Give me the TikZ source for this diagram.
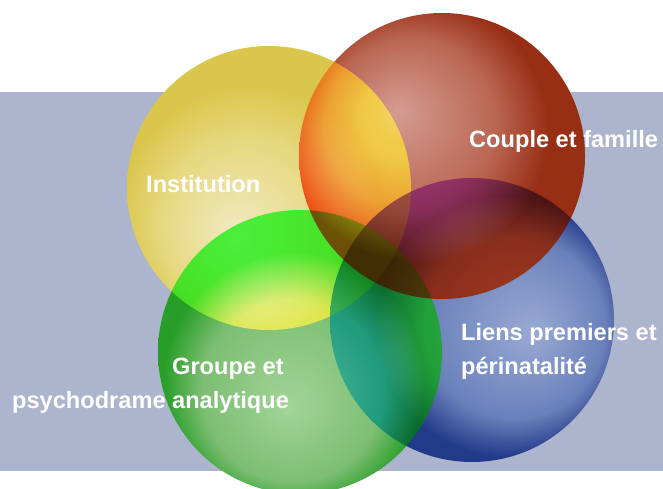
\documentclass[tikz,border=0pt]{standalone}
\usepackage{fontspec}
\setmainfont{Liberation Sans}
\usepackage{xcolor}

\definecolor{backblue}{RGB}{173,181,206}
\definecolor{yellowin}{RGB}{242,234,196}
\definecolor{yellowmid}{RGB}{230,216,126}
\definecolor{yellowout}{RGB}{218,198,76}
\definecolor{redin}{RGB}{212,156,146}
\definecolor{redmid}{RGB}{186,102,82}
\definecolor{redout}{RGB}{152,46,20}
\definecolor{greenin}{RGB}{162,212,152}
\definecolor{greenmid}{RGB}{124,190,114}
\definecolor{greenout}{RGB}{40,158,40}
\definecolor{bluein}{RGB}{152,170,212}
\definecolor{bluemid}{RGB}{106,128,186}
\definecolor{blueout}{RGB}{34,58,138}

%glassy balls, light spot a little off the centre
\pgfdeclareradialshading{yellowball}{\pgfpoint{-6bp}{-9bp}}{color(0bp)=(yellowin); color(15bp)=(yellowmid); color(23bp)=(yellowout); color(50bp)=(yellowout)}
\pgfdeclareradialshading{redball}{\pgfpoint{-8bp}{8bp}}{color(0bp)=(redin); color(15bp)=(redmid); color(23bp)=(redout); color(50bp)=(redout)}
\pgfdeclareradialshading{greenball}{\pgfpoint{-2bp}{-10bp}}{color(0bp)=(greenin); color(16bp)=(greenmid); color(23bp)=(greenout); color(50bp)=(greenout)}
\pgfdeclareradialshading{blueball}{\pgfpoint{11bp}{-2bp}}{color(0bp)=(bluein); color(16bp)=(bluemid); color(23bp)=(blueout); color(50bp)=(blueout)}

\begin{document}
\begin{tikzpicture}[x=1pt,y=-1pt]
\tikzstyle{label} = [
	text=white,
	font=\fontsize{23.6}{28}\selectfont\bfseries,
	inner sep=0pt,
	anchor=base west
];

\useasboundingbox (0,0) rectangle (663,489);

%background band
\fill[backblue] (0,92) rectangle (663,471);

%centres of the four spheres
\coordinate (Ye) at (269,188);
\coordinate (Bl) at (472,320);
\coordinate (Gr) at (300,352);
\coordinate (Re) at (442,156);

%spheres, blended where they overlap
\begin{scope}[blend group=hard light]
	\shade[shading=yellowball] (Ye) circle (142pt);
	\shade[shading=blueball] (Bl) circle (142pt);
	\shade[shading=greenball] (Gr) circle (142pt);
	\shade[shading=redball] (Re) circle (143pt);
\end{scope}

%labels
\node[label] (Inst) at (146,192) {Institution};
\node[label] (Coup) at (469,148) {Couple et famille};
\node[label] (Lien) at (461,340) {Liens premiers et};
\node[label] (Peri) at (461,374) {périnatalité};
\node[label] (Grou) at (172,374) {Groupe et};
\node[label] (Psyc) at (12,408) {psychodrame analytique};

\end{tikzpicture}
\end{document}
